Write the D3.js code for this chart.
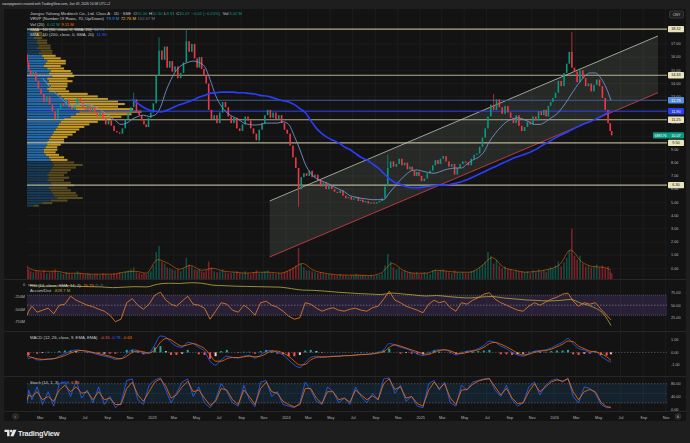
<!DOCTYPE html>
<html>
<head>
<meta charset="utf-8">
<script src="https://cdn.jsdelivr.net/npm/d3@7"></script>
<style>
  html, body { margin: 0; padding: 0; background: #1e1e1e; }
  svg { display: block; font-family: "Liberation Sans", Arial, sans-serif; }
</style>
</head>
<body>
<svg id="chart" width="690" height="443"></svg>
<script>
// ---- data (weekly closes grouped by month, Jan 2022 .. Jun 2026) ----
const firstDay = new Date(2022, 0, 24);
const lastDay = new Date(2026, 5, 9);
const firstOpen = 16.2;

const close2022 = [[15.6,15.0],[14.6,14.9,14.2,13.6],[13.2,12.6,13.0,12.4],[11.9,11.3,12.1,12.5],[12.3,12.8,12.2,12.0],[12.4,12.9,12.6,12.2],[12.0,12.4,11.9,12.2,11.8],[11.5,11.9,11.3,10.9],[11.2,10.8,10.4,10.3],[10.2,10.6,11.3,11.8],[12.2,12.8,11.9,11.6],[11.2,10.9,10.7,11.4,11.8]];
const close2023 = [[12.5,14.6,16.5,15.8],[16.8,15.2,15.7,14.9],[15.3,14.4,14.8,15.6],[17.2,16.4,17.0,15.9],[15.2,16.0,15.1,14.6,14.0],[12.0,11.3,11.6,11.0],[11.8,12.6,12.2,11.5],[11.0,11.4,10.6,10.4],[10.9,11.5,11.2,10.6],[10.2,9.7,10.5,11.0],[11.6,12.0,11.4,11.8],[11.3,11.6,11.0,10.5]];
const close2024 = [[10.2,9.3,8.4,7.6],[6.0,6.9,7.2,7.0],[7.4,6.9,7.1,6.7],[6.2,6.5,6.0,6.3],[6.0,5.8,5.7,5.9],[5.5,5.3,5.4,5.2],[5.3,5.4,5.1,5.2,5.0],[5.1,4.9,5.0,4.9],[5.0,5.1,5.3,6.2],[7.6,8.1,7.7,7.9],[8.3,7.8,8.0,7.5],[7.7,7.4,7.0,7.3,7.0]];
const close2025 = [[6.6,6.8,7.2,7.4],[7.8,8.2,7.9,8.3],[8.5,8.1,7.7,7.9],[7.1,7.6,7.9,8.1],[8.0,7.8,8.3,8.6],[8.7,9.2,9.9,10.6],[11.5,12.4,12.0,12.8],[12.2,11.7,12.3,11.8],[11.4,11.0,11.6,10.8],[10.4,10.7,11.1,10.9],[11.5,11.2,11.9,11.6],[12.0,11.5,12.3,12.6,12.9]];
const close2026 = [[13.3,14.2,13.8,14.8],[15.5,16.4,15.2,14.9],[14.1,15.0,14.4,13.8],[14.0,13.4,13.9,14.3],[13.8,12.9,12.0,11.0],[10.4,10.07]];

const volume2022 = [[14,10],[8,7,9,8],[7,9,6,7],[8,10,7,6],[5,7,6,5],[6,8,6,5],[5,6,5,4,5],[5,4,6,5],[4,5,6,5],[7,6,8,9],[10,12,7,6],[5,6,5,7,8]];
const volume2023 = [[14,28,34,18],[16,12,11,10],[9,10,8,11],[22,15,13,10],[9,10,8,7,9],[18,12,8,7],[8,10,7,6],[6,7,8,6],[6,8,6,5],[7,9,6,7],[8,9,6,6],[5,6,6,7]];
const volume2024 = [[8,10,12,14],[32,16,12,9],[9,8,7,6],[7,6,5,5],[5,4,4,5],[4,4,3,4],[4,5,4,4,4],[4,3,4,3],[4,4,6,14],[26,18,12,10],[11,8,9,7],[7,6,6,7,5]];
const volume2025 = [[6,7,6,5],[9,10,8,9],[10,8,7,6],[9,7,6,7],[6,6,8,9],[10,12,15,18],[28,24,16,20],[14,11,13,10],[10,8,9,8],[8,7,8,6],[9,7,10,8],[9,7,10,12,11]];
const volume2026 = [[14,18,13,17],[22,30,52,24],[20,24,16,13],[14,12,13,15],[12,14,11,13],[8,6]];
const volumeMA = [12,9,8,8,6,6,5,5,5,7,8,6, 20,16,10,14,9,11,8,7,6,7,7,6, 10,16,9,6,4.5,4,4,3.5,6,16,9,6, 6,9,8,7,7,13,22,12,9,7,8,10, 15,30,18,13,12,9.11];

// notable wicks
const wickDates = ["2022-11-14","2023-01-24","2023-04-04","2023-10-17","2024-02-06","2024-10-08","2025-07-22","2026-02-17"];
const wickPrices = [13.3, 17.5, 18.12, 9.5, 4.65, 8.6, 13.2, 17.9];

// SMA 50 (two readings per month, from Mar 2022) and SMA 200 (from Nov 2022)
const sma50 = [[14.4,13.9],[13.4,13.0],[12.6,12.3],[12.3,12.4],[12.4,12.3],[12.1,11.8],[11.5,11.2],[10.9,11.0],[11.3,11.5],[11.6,11.5],
  [11.6,12.2],[13.4,14.3],[15.0,15.4],[15.6,15.7],[15.6,15.3],[14.3,13.1],[12.3,11.8],[11.5,11.3],[11.0,10.9],[10.85,10.9],[11.0,11.0],[11.0,11.1],
  [10.9,10.0],[9.0,7.9],[7.2,6.8],[6.6,6.45],[6.2,6.0],[5.8,5.5],[5.4,5.3],[5.25,5.2],[5.2,5.2],[5.7,6.2],[6.7,7.1],[7.4,7.45],
  [7.35,7.25],[7.2,7.3],[7.45,7.55],[7.6,7.6],[7.9,8.2],[8.4,8.8],[9.6,10.2],[10.7,11.1],[11.3,11.4],[11.3,11.1],[10.9,10.9],[11.1,11.4],
  [11.7,12.2],[12.8,13.4],[14.0,14.5],[14.8,14.8],[14.4,13.6],[12.73]];
const sma200 = [[12.8,12.5],[12.2,12.0],
  [11.9,11.85],[11.95,12.1],[12.3,12.45],[12.6,12.75],[12.95,13.1],[13.25,13.3],[13.35,13.35],[13.35,13.3],[13.3,13.25],[13.2,13.1],[13.05,12.95],[12.8,12.7],
  [12.6,12.4],[12.1,11.8],[11.2,10.6],[10.2,9.9],[9.7,9.5],[9.2,9.0],[8.7,8.4],[8.2,7.9],[7.6,7.2],[6.8,6.5],[6.35,6.2],[6.1,6.1],
  [6.15,6.2],[6.25,6.3],[6.3,6.35],[6.45,6.55],[6.7,6.9],[7.1,7.3],[7.5,7.7],[7.9,8.1],[8.3,8.45],[8.6,8.75],[8.95,9.2],[9.45,9.7],
  [9.95,10.15],[10.35,10.55],[10.75,10.95],[11.1,11.3],[11.5,11.75],[11.90]];

// user levels and channel
const levelPrices = [18.12, 14.63, 11.25, 9.50, 6.30];
const channelDates = ["2023-11-18", "2026-10-11"];
const channelUpper = [5.10, 17.6];
const channelLower = [0.86, 13.3];

// visible range volume profile, 70 rows from 18.12 down to 4.65
const profileHigh = 18.12, profileLow = 4.65;
const profileUp = [3,4,5,4,6, 6,7,6,8,7, 9,10,12,11,10, 12,14,13,15,12, 13,12,14,12,13, 18,20,22,24,25, 26,29,31,29,26, 22,20,19,18,17, 16,15,14,13,12, 12,11,10,10,11, 13,14,15,16,15, 14,13,12,13,12, 14,15,13,14,15, 16,18,14,9,4];
const profileDown = [4,5,6,5,6, 6,7,8,7,8, 8,10,11,12,10, 10,12,14,13,12, 14,12,10,11,12, 18,22,26,30,33, 28,34,37,33,30, 28,22,18,16,14, 13,12,10,9,10, 8,7,8,7,8, 9,10,13,17,14, 12,11,10,12,10, 12,13,11,12,14, 14,15,10,6,3];

// indicators, two readings per month
const rsi = [[30,38],[48,36],[40,44],[33,50],[52,68],[60,55],[50,47],[42,38],[30,17],[22,55],[63,50],[42,52],
  [70,76],[60,52],[48,58],[68,52],[50,44],[22,38],[55,52],[40,36],[50,42],[30,55],[58,50],[46,38],
  [28,22],[25,55],[52,44],[38,42],[45,40],[38,42],[44,40],[38,45],[48,62],[78,60],[55,48],[44,40],
  [35,52],[60,55],[58,45],[38,55],[52,60],[65,72],[75,62],[55,50],[45,40],[38,48],[55,50],[56,62],
  [66,72],[74,58],[48,55],[52,55],[42,30],[20.75]];
const accumDist = [-5,-20,-30,-25,-20,-35,-40,-45,-60,-50,-40,-45, 10,30,25,40,30,-10,-20,-30,-35,-40,-45,-50,
  -80,-110,-115,-130,-150,-165,-180,-190,-200,-170,-190,-210, -230,-220,-240,-260,-270,-250,-240,-270,-290,-310,-320,-330,
  -320,-300,-380,-450,-600,-828.7];
const macd = [[-0.2,-0.5],[-0.4,-0.6],[-0.6,-0.5],[-0.5,-0.3],[-0.1,0.1],[0.2,0.15],[0.05,-0.05],[-0.2,-0.3],[-0.4,-0.55],[-0.5,-0.1],[0.2,0.15],[-0.1,-0.05],
  [0.6,1.3],[1.2,0.8],[0.5,0.4],[0.8,0.7],[0.4,0.1],[-0.7,-1.0],[-0.6,-0.3],[-0.4,-0.45],[-0.3,-0.25],[-0.45,-0.2],[0.1,0.15],[0.0,-0.2],
  [-0.6,-1.0],[-1.2,-0.8],[-0.4,-0.3],[-0.4,-0.35],[-0.3,-0.3],[-0.25,-0.25],[-0.2,-0.15],[-0.15,-0.1],[0.0,0.2],[0.7,0.6],[0.4,0.3],[0.1,-0.1],
  [-0.25,-0.1],[0.15,0.2],[0.2,0.05],[-0.2,-0.05],[0.1,0.15],[0.3,0.55],[0.9,0.8],[0.5,0.3],[0.0,-0.2],[-0.3,-0.1],[0.1,0.15],[0.2,0.35],
  [0.6,0.8],[1.1,0.7],[0.3,0.2],[0.0,0.1],[-0.3,-0.6],[-0.78]];
const macdSignal = [[-0.1,-0.3],[-0.4,-0.5],[-0.55,-0.55],[-0.5,-0.4],[-0.25,-0.05],[0.1,0.15],[0.1,0.0],[-0.1,-0.2],[-0.3,-0.45],[-0.5,-0.3],[0.0,0.1],[0.05,-0.05],
  [0.2,0.8],[1.1,1.0],[0.7,0.5],[0.6,0.7],[0.55,0.3],[-0.2,-0.7],[-0.7,-0.5],[-0.4,-0.4],[-0.35,-0.3],[-0.35,-0.3],[-0.1,0.1],[0.1,-0.05],
  [-0.3,-0.7],[-1.0,-0.95],[-0.6,-0.4],[-0.35,-0.35],[-0.32,-0.3],[-0.27,-0.25],[-0.22,-0.18],[-0.16,-0.12],[-0.05,0.05],[0.4,0.6],[0.5,0.35],[0.2,0.05],
  [-0.1,-0.15],[0.0,0.15],[0.2,0.12],[-0.05,-0.1],[0.0,0.1],[0.2,0.4],[0.7,0.8],[0.65,0.45],[0.2,-0.05],[-0.2,-0.15],[0.0,0.1],[0.15,0.25],
  [0.45,0.65],[0.9,0.85],[0.5,0.3],[0.1,0.05],[-0.1,-0.35],[-0.63]];
const stochK = [[20,60],[30,70],[15,55],[10,80],[85,40],[90,35],[60,20],[70,15],[40,5],[20,90],[95,30],[15,75],
  [92,98],[60,20],[50,85],[95,40],[70,20],[5,30],[80,55],[20,10],[75,30],[8,85],[90,40],[55,15],
  [10,5],[20,85],[60,25],[15,70],[55,20],[35,15],[70,40],[20,50],[30,95],[98,50],[75,25],[40,10],
  [5,80],[90,60],[85,20],[10,75],[60,85],[90,95],[97,60],[40,75],[30,10],[20,70],[85,45],[75,90],
  [95,85],[98,40],[20,70],[65,50],[15,5],[5.18]];
const stochD = [[30,45],[40,55],[30,40],[25,60],[75,55],[70,50],[55,30],[55,30],[35,15],[15,65],[85,45],[25,55],
  [85,95],[72,35],[45,70],[88,55],[60,35],[12,25],[65,60],[30,15],[60,40],[15,65],[85,55],[50,25],
  [15,8],[15,65],[65,35],[18,55],[55,30],[35,22],[60,45],[30,42],[30,80],[95,62],[70,35],[40,18],
  [10,60],[85,65],[80,35],[15,60],[62,78],[88,93],[95,70],[45,65],[35,18],[20,55],[80,55],[70,85],
  [92,88],[95,55],[30,55],[62,55],[22,8],[6.58]];

const monthAbbr = ["Jan","Feb","Mar","Apr","May","Jun","Jul","Aug","Sep","Oct","Nov","Dec"];
const priceTicks = d3.range(0, 18);
const rsiTicks = [25, 50, 75];
const macdTicks = [-1, 0, 1];
const stochTicks = [0, 40, 80];
const adTicks = [0, -250, -500, -750];

// ---- helpers ----
const monthsAll = d3.timeMonth.range(new Date(2022, 0, 1), new Date(2026, 6, 1));
function spread(byMonth, startMonth = 0) {
  const out = [];
  byMonth.forEach((vals, k) => {
    const m = monthsAll[k + startMonth];
    const a = Math.max(+m, +firstDay);
    const b = Math.min(+d3.timeMonth.offset(m, 1), +lastDay);
    vals.forEach((v, j) => out.push({ date: new Date(a + (j + 0.5) / vals.length * (b - a)), value: v }));
  });
  return out;
}

const upColor = "#089981", downColor = "#f23645";
const txt = "#c9ccd4", axisTxt = "#b2b5be", gridColor = "#1e1e1e";
const plotLeft = 27, plotRight = 667;

const svg = d3.select("#chart");
svg.append("rect").attr("width", 690).attr("height", 443).attr("fill", "#1e1e1e");
svg.append("rect").attr("x", 4).attr("y", 9).attr("width", 682).attr("height", 412).attr("fill", "#131313");

svg.append("text").attr("x", 2).attr("y", 5.3).attr("font-size", 3.4).attr("fill", "#d1d4dc")
  .text("savepigiwest created with TradingView.com, Jun 09, 2026 10:58 UTC+2");

// scales
const x = d3.scaleTime().domain([new Date(2022, 0, 1), new Date(2027, 0, 1)]).range([18, 688]);
const yPrice = d3.scaleLinear().domain([0, 17]).range([268.3, 43.9]);
const yVol = d3.scaleLinear().domain([0, 60]).range([279, 221]);
const yRsi = d3.scaleLinear().domain([0, 100]).range([330.2, 280.2]);
const yAd = d3.scaleLinear().domain([0, -750]).range([284.7, 321.6]);
const yMacd = d3.scaleLinear().domain([-1, 1]).range([365, 339.8]);
const yStoch = d3.scaleLinear().domain([0, 80]).range([409.3, 383.7]);

const panes = { main: [9, 279], rsi: [280, 331], macd: [332, 376], stoch: [377, 411] };
const defs = svg.append("defs");
Object.entries(panes).forEach(([k, [a, b]]) => {
  defs.append("clipPath").attr("id", "clip-" + k).append("rect")
    .attr("x", plotLeft).attr("y", a).attr("width", plotRight - plotLeft).attr("height", b - a);
});
function pane(k) { return svg.append("g").attr("clip-path", `url(#clip-${k})`); }

// grid
const tickDates = d3.timeMonth.every(2).range(new Date(2022, 2, 1), new Date(2026, 11, 1));
const grid = svg.append("g");
grid.selectAll("line.v").data(tickDates).join("line")
  .attr("x1", d => x(d)).attr("x2", d => x(d)).attr("y1", 9).attr("y2", 411)
  .attr("stroke", gridColor).attr("stroke-width", 0.8);
grid.selectAll("line.h").data(priceTicks).join("line")
  .attr("x1", plotLeft).attr("x2", plotRight).attr("y1", d => yPrice(d)).attr("y2", d => yPrice(d))
  .attr("stroke", gridColor).attr("stroke-width", 0.8);

// pane separators
[279.5, 331.5, 376.5, 411.5].forEach(y => svg.append("line").attr("x1", 4).attr("x2", 686)
  .attr("y1", y).attr("y2", y).attr("stroke", "#262626").attr("stroke-width", 1));

// ---- main pane ----
const gMain = pane("main");

// channel
const cx0 = x(new Date(channelDates[0])), cx1 = x(new Date(channelDates[1]));
gMain.append("path")
  .attr("d", `M${cx0},${yPrice(channelUpper[0])}L${cx1},${yPrice(channelUpper[1])}L${cx1},${yPrice(channelLower[1])}L${cx0},${yPrice(channelLower[0])}Z`)
  .attr("fill", "rgba(150,160,140,0.16)");
gMain.append("line").attr("x1", cx0).attr("y1", yPrice(channelUpper[0])).attr("x2", cx1).attr("y2", yPrice(channelUpper[1]))
  .attr("stroke", "#9aa696").attr("stroke-width", 1);
gMain.append("line").attr("x1", cx0).attr("y1", yPrice(channelLower[0])).attr("x2", cx1).attr("y2", yPrice(channelLower[1]))
  .attr("stroke", "#b53a44").attr("stroke-width", 1);

// volume profile
const rowH = (profileHigh - profileLow) / profileUp.length;
const rows = profileUp.map((u, i) => ({ i, up: u, down: profileDown[i], top: profileHigh - i * rowH }));
const totalVol = d3.sum(rows, r => r.up + r.down);
const poc = d3.maxIndex(rows, r => r.up + r.down);
let lo = poc, hi = poc, acc = rows[poc].up + rows[poc].down;
while (acc < 0.7 * totalVol) {
  const above = lo > 0 ? rows[lo - 1].up + rows[lo - 1].down : -1;
  const below = hi < rows.length - 1 ? rows[hi + 1].up + rows[hi + 1].down : -1;
  if (above >= below) { lo--; acc += above; } else { hi++; acc += below; }
}
const xProf = d3.scaleLinear().domain([0, 70]).range([0, 118]);
const gProf = gMain.append("g");
rows.forEach(r => {
  const inVA = r.i >= lo && r.i <= hi;
  const y0 = yPrice(r.top) + 0.25, h = Math.abs(yPrice(r.top - rowH) - yPrice(r.top)) - 0.5;
  gProf.append("rect").attr("x", plotLeft).attr("y", y0).attr("width", xProf(r.up)).attr("height", h)
    .attr("fill", inVA ? "#2675bd" : "#1b3f5e").attr("opacity", 0.9);
  gProf.append("rect").attr("x", plotLeft + xProf(r.up)).attr("y", y0).attr("width", xProf(r.down)).attr("height", h)
    .attr("fill", inVA ? "#d9a928" : "#625220").attr("opacity", 0.9);
});

// levels
gMain.selectAll("line.level").data(levelPrices).join("line")
  .attr("x1", plotLeft).attr("x2", plotRight).attr("y1", d => yPrice(d)).attr("y2", d => yPrice(d))
  .attr("stroke", "#cfc9a4").attr("stroke-width", 1.1).attr("opacity", 0.85);

// SMA price lines
const sma50Pts = spread(sma50, 2), sma200Pts = spread(sma200, 10);
const sma50Last = sma50Pts[sma50Pts.length - 1].value, sma200Last = sma200Pts[sma200Pts.length - 1].value;
gMain.append("line").attr("x1", plotLeft).attr("x2", plotRight).attr("y1", yPrice(sma50Last)).attr("y2", yPrice(sma50Last))
  .attr("stroke", "#3d5f94").attr("stroke-width", 1);
gMain.append("line").attr("x1", plotLeft).attr("x2", plotRight).attr("y1", yPrice(sma200Last)).attr("y2", yPrice(sma200Last))
  .attr("stroke", "#2a40e8").attr("stroke-width", 1);

// candles + volume
const closes = spread([...close2022, ...close2023, ...close2024, ...close2025, ...close2026]);
const vols = spread([...volume2022, ...volume2023, ...volume2024, ...volume2025, ...volume2026]);
const candles = closes.map((d, i) => ({ date: d.date, open: i ? closes[i - 1].value : firstOpen, close: d.value, vol: vols[i].value }));

gMain.selectAll("rect.vol").data(candles).join("rect")
  .attr("x", d => x(d.date) - 0.8).attr("width", 1.6)
  .attr("y", d => yVol(d.vol)).attr("height", d => yVol(0) - yVol(d.vol))
  .attr("fill", d => d.close >= d.open ? upColor : downColor).attr("opacity", 0.45);
const volMAPts = spread(volumeMA.map(v => [v]));
gMain.append("path").datum(volMAPts)
  .attr("d", d3.line().x(d => x(d.date)).y(d => yVol(d.value)).curve(d3.curveMonotoneX))
  .attr("fill", "none").attr("stroke", "#ff6d00").attr("stroke-width", 0.7).attr("opacity", 0.75);

wickDates.forEach((ds, k) => {
  const t = new Date(ds);
  const c = d3.least(candles, d => Math.abs(d.date - t));
  const edge = wickPrices[k] > c.close ? Math.max(c.open, c.close) : Math.min(c.open, c.close);
  gMain.append("line").attr("x1", x(c.date)).attr("x2", x(c.date))
    .attr("y1", yPrice(wickPrices[k])).attr("y2", yPrice(edge))
    .attr("stroke", c.close >= c.open ? upColor : downColor).attr("stroke-width", 0.7);
});
gMain.selectAll("rect.candle").data(candles).join("rect")
  .attr("x", d => x(d.date) - 0.8).attr("width", 1.6)
  .attr("y", d => yPrice(Math.max(d.open, d.close)))
  .attr("height", d => Math.max(0.7, Math.abs(yPrice(d.open) - yPrice(d.close))))
  .attr("fill", d => d.close >= d.open ? upColor : downColor);

// moving averages
const lineP = d3.line().x(d => x(d.date)).y(d => yPrice(d.value)).curve(d3.curveMonotoneX);
gMain.append("path").datum(sma50Pts).attr("d", lineP).attr("fill", "none").attr("stroke", "#6f93cc").attr("stroke-width", 0.9);
gMain.append("path").datum(sma200Pts).attr("d", lineP).attr("fill", "none").attr("stroke", "#2b3dff").attr("stroke-width", 1.6);

// ---- RSI / Accum-Dist pane ----
const gRsi = pane("rsi");
gRsi.append("rect").attr("x", plotLeft).attr("width", plotRight - plotLeft)
  .attr("y", yRsi(70)).attr("height", yRsi(30) - yRsi(70)).attr("fill", "rgba(126,87,194,0.2)");
[70, 50, 30].forEach(v => gRsi.append("line").attr("x1", plotLeft).attr("x2", plotRight)
  .attr("y1", yRsi(v)).attr("y2", yRsi(v)).attr("stroke", "#8f8f9a").attr("stroke-width", 0.6)
  .attr("stroke-dasharray", v === 50 ? "1.5,1.5" : "0.8,1.2"));
gRsi.append("path").datum(spread(accumDist.map(v => [v])))
  .attr("d", d3.line().x(d => x(d.date)).y(d => yAd(d.value)).curve(d3.curveMonotoneX))
  .attr("fill", "none").attr("stroke", "#a89a3a").attr("stroke-width", 0.9);
gRsi.append("path").datum(spread(rsi))
  .attr("d", d3.line().x(d => x(d.date)).y(d => yRsi(d.value)))
  .attr("fill", "none").attr("stroke", "#f0812a").attr("stroke-width", 0.8);

// ---- MACD pane ----
const gMacd = pane("macd");
const macdPts = spread(macd), sigPts = spread(macdSignal);
const hist = macdPts.map((d, i) => ({ date: d.date, value: d.value - sigPts[i].value }));
gMacd.append("line").attr("x1", plotLeft).attr("x2", plotRight).attr("y1", yMacd(0)).attr("y2", yMacd(0))
  .attr("stroke", "#6a6d78").attr("stroke-width", 0.6).attr("stroke-dasharray", "1.5,1.5");
gMacd.selectAll("rect.h").data(hist).join("rect")
  .attr("x", d => x(d.date) - 1).attr("width", 2)
  .attr("y", d => yMacd(Math.max(0, d.value))).attr("height", d => Math.abs(yMacd(d.value) - yMacd(0)))
  .attr("fill", (d, i) => {
    const prev = i ? hist[i - 1].value : 0;
    if (d.value >= 0) return d.value >= prev ? "#26a69a" : "#b2dfdb";
    return d.value <= prev ? "#ff5252" : "#ffcdd2";
  });
const lineM = d3.line().x(d => x(d.date)).y(d => yMacd(d.value)).curve(d3.curveMonotoneX);
gMacd.append("path").datum(macdPts).attr("d", lineM).attr("fill", "none").attr("stroke", "#2962ff").attr("stroke-width", 0.8);
gMacd.append("path").datum(sigPts).attr("d", lineM).attr("fill", "none").attr("stroke", "#ff6d00").attr("stroke-width", 0.8);

// ---- Stoch pane ----
const gSt = pane("stoch");
gSt.append("rect").attr("x", plotLeft).attr("width", plotRight - plotLeft)
  .attr("y", yStoch(80)).attr("height", yStoch(20) - yStoch(80)).attr("fill", "rgba(33,150,243,0.12)");
[80, 50, 20].forEach(v => gSt.append("line").attr("x1", plotLeft).attr("x2", plotRight)
  .attr("y1", yStoch(v)).attr("y2", yStoch(v)).attr("stroke", "#6a6d78").attr("stroke-width", 0.6)
  .attr("stroke-dasharray", "1.5,1.5").attr("opacity", v === 50 ? 0.5 : 1));
const lineS = d3.line().x(d => x(d.date)).y(d => yStoch(d.value));
gSt.append("path").datum(spread(stochK)).attr("d", lineS).attr("fill", "none").attr("stroke", "#2962ff").attr("stroke-width", 0.8);
gSt.append("path").datum(spread(stochD)).attr("d", lineS).attr("fill", "none").attr("stroke", "#ff6d00").attr("stroke-width", 0.8);

// ---- axes ----
const fs = 3.8;
const ax = svg.append("g").attr("font-size", fs).attr("fill", axisTxt);
priceTicks.forEach(v => ax.append("text").attr("x", 671).attr("y", yPrice(v) + 1.3).text(v.toFixed(2)));
rsiTicks.forEach(v => ax.append("text").attr("x", 671).attr("y", yRsi(v) + 1.3).text(v.toFixed(2)));
macdTicks.forEach(v => ax.append("text").attr("x", 671).attr("y", yMacd(v) + 1.3).text(v.toFixed(2)));
stochTicks.forEach(v => ax.append("text").attr("x", 671).attr("y", yStoch(v) + 1.3).text(v.toFixed(2)));
adTicks.forEach(v => ax.append("text").attr("x", 25).attr("y", yAd(v) + 1.3).attr("text-anchor", "end")
  .text(v === 0 ? "0" : v + "M"));

const xAxis = d3.axisBottom(x).tickValues(tickDates).tickSize(0)
  .tickFormat(d => d.getMonth() === 0 ? d.getFullYear() : monthAbbr[d.getMonth()]);
const gx = svg.append("g").attr("transform", "translate(0,413)").call(xAxis);
gx.select(".domain").remove();
gx.selectAll("text").attr("font-size", fs).attr("fill", axisTxt).attr("font-family", "Liberation Sans, Arial, sans-serif");

// right-side labels
function priceLabel(y, text, bg, fg) {
  svg.append("rect").attr("x", 668).attr("y", y - 3.2).attr("width", 16).attr("height", 6.4).attr("rx", 0.8).attr("fill", bg);
  svg.append("text").attr("x", 676).attr("y", y + 1.3).attr("text-anchor", "middle").attr("font-size", fs).attr("fill", fg).text(text);
}
levelPrices.forEach(p => priceLabel(yPrice(p), p.toFixed(2), "#e8e2bd", "#151515"));
priceLabel(yPrice(sma50Last), sma50Last.toFixed(2), "#5b8fd9", "#ffffff");
priceLabel(yPrice(sma200Last), sma200Last.toFixed(2), "#2a3ff0", "#ffffff");
const lastClose = candles[candles.length - 1];
priceLabel(yPrice(lastClose.close), lastClose.close.toFixed(2), upColor, "#ffffff");
svg.append("rect").attr("x", 653).attr("y", yPrice(lastClose.close) - 3.2).attr("width", 15).attr("height", 6.4).attr("rx", 0.8).attr("fill", upColor);
svg.append("text").attr("x", 660.5).attr("y", yPrice(lastClose.close) + 1.3).attr("text-anchor", "middle")
  .attr("font-size", 3.6).attr("fill", "#ffffff").text("688176");

// currency button and axis icons
svg.append("rect").attr("x", 669.5).attr("y", 11).attr("width", 14).attr("height", 7).attr("rx", 1.5)
  .attr("fill", "#1e1e1e").attr("stroke", "#555").attr("stroke-width", 0.5);
svg.append("text").attr("x", 676.5).attr("y", 15.8).attr("text-anchor", "middle").attr("font-size", 3.6).attr("fill", "#d1d4dc").text("CNY");
[[15.5, "⇕"], [678, "A"]].forEach(([cx, s]) => {
  svg.append("circle").attr("cx", cx).attr("cy", 416.5).attr("r", 3).attr("fill", "#262626").attr("stroke", "#444").attr("stroke-width", 0.4);
  svg.append("text").attr("x", cx).attr("y", 417.8).attr("text-anchor", "middle").attr("font-size", 3.4).attr("fill", "#999").text(s);
});

// ---- legends ----
function legend(x0, y, parts) {
  const t = svg.append("text").attr("x", x0).attr("y", y).attr("font-size", 4.2);
  parts.forEach(([s, c, gap]) => t.append("tspan").attr("fill", c).attr("dx", gap === undefined ? 1.6 : gap).text(s));
}
legend(30, 15, [["Jiangsu Yahong Meditech Co., Ltd. Class A · 1D · SSE", txt, 0], ["O", txt, 2.5], ["10.06", upColor, 0],
  ["H", txt], ["10.30", upColor, 0], ["L", txt], ["9.91", upColor, 0], ["C", txt], [lastClose.close.toFixed(2), upColor, 0],
  ["−0.02 (−0.20%)", upColor], ["Vol", txt, 2.5], ["3.02 M", upColor, 0.8]]);
legend(30, 20.4, [["VRVP (Number Of Rows, 70, Up/Down)", txt, 0], ["79.9 M", "#2196f3", 2.5], ["72.76 M", "#fbc02d"], ["152.67 M", "#787b86"]]);
legend(30, 25.6, [["Vol (20)", txt, 0], ["6.02 M", upColor, 2.5], ["9.11 M", "#ff6d00"]]);
legend(30, 30.9, [["SMA · 1D (50, close, 0, SMA, 20)", txt, 0], [sma50Last.toFixed(2), "#5b8fd9", 2.5]]);
legend(30, 36.1, [["SMA · 1D (200, close, 0, SMA, 20)", txt, 0], [sma200Last.toFixed(2), "#2962ff", 2.5]]);
legend(30, 286.8, [["RSI (14, close, SMA, 14, 2)", txt, 0], [rsi[rsi.length - 1][0].toFixed(2), "#f0812a", 2.5], ["∅", "#787b86"], ["∅", "#787b86"]]);
legend(30, 292, [["Accum/Dist", txt, 0], [accumDist[accumDist.length - 1].toFixed(1) + " M", "#b5a642", 2.5]]);
const lastHist = hist[hist.length - 1].value;
legend(30, 338.8, [["MACD (12, 26, close, 9, EMA, EMA)", txt, 0], [lastHist.toFixed(2), "#ff5252", 2.5],
  [macdPts[macdPts.length - 1].value.toFixed(2), "#2962ff"], [sigPts[sigPts.length - 1].value.toFixed(2), "#ff6d00"]]);
legend(30, 383.8, [["Stoch (14, 1, 3)", txt, 0], [stochK[stochK.length - 1][0].toFixed(2), "#2962ff", 2.5],
  [stochD[stochD.length - 1][0].toFixed(2), "#ff6d00"]]);

// ---- footer logo ----
const logo = svg.append("g").attr("fill", "#e6e6e6");
logo.append("path").attr("d", "M4.5,429.8h5v6.4h-2.4v-4.1h-2.6z");
logo.append("circle").attr("cx", 11.2).attr("cy", 431.1).attr("r", 1.3);
logo.append("path").attr("d", "M13.2,429.8h3.3l-3,6.4h-3.2z");
svg.append("text").attr("x", 18).attr("y", 436).attr("font-size", 7.4).attr("font-weight", "bold")
  .attr("fill", "#e6e6e6").attr("letter-spacing", -0.2).text("TradingView");
</script>
</body>
</html>
